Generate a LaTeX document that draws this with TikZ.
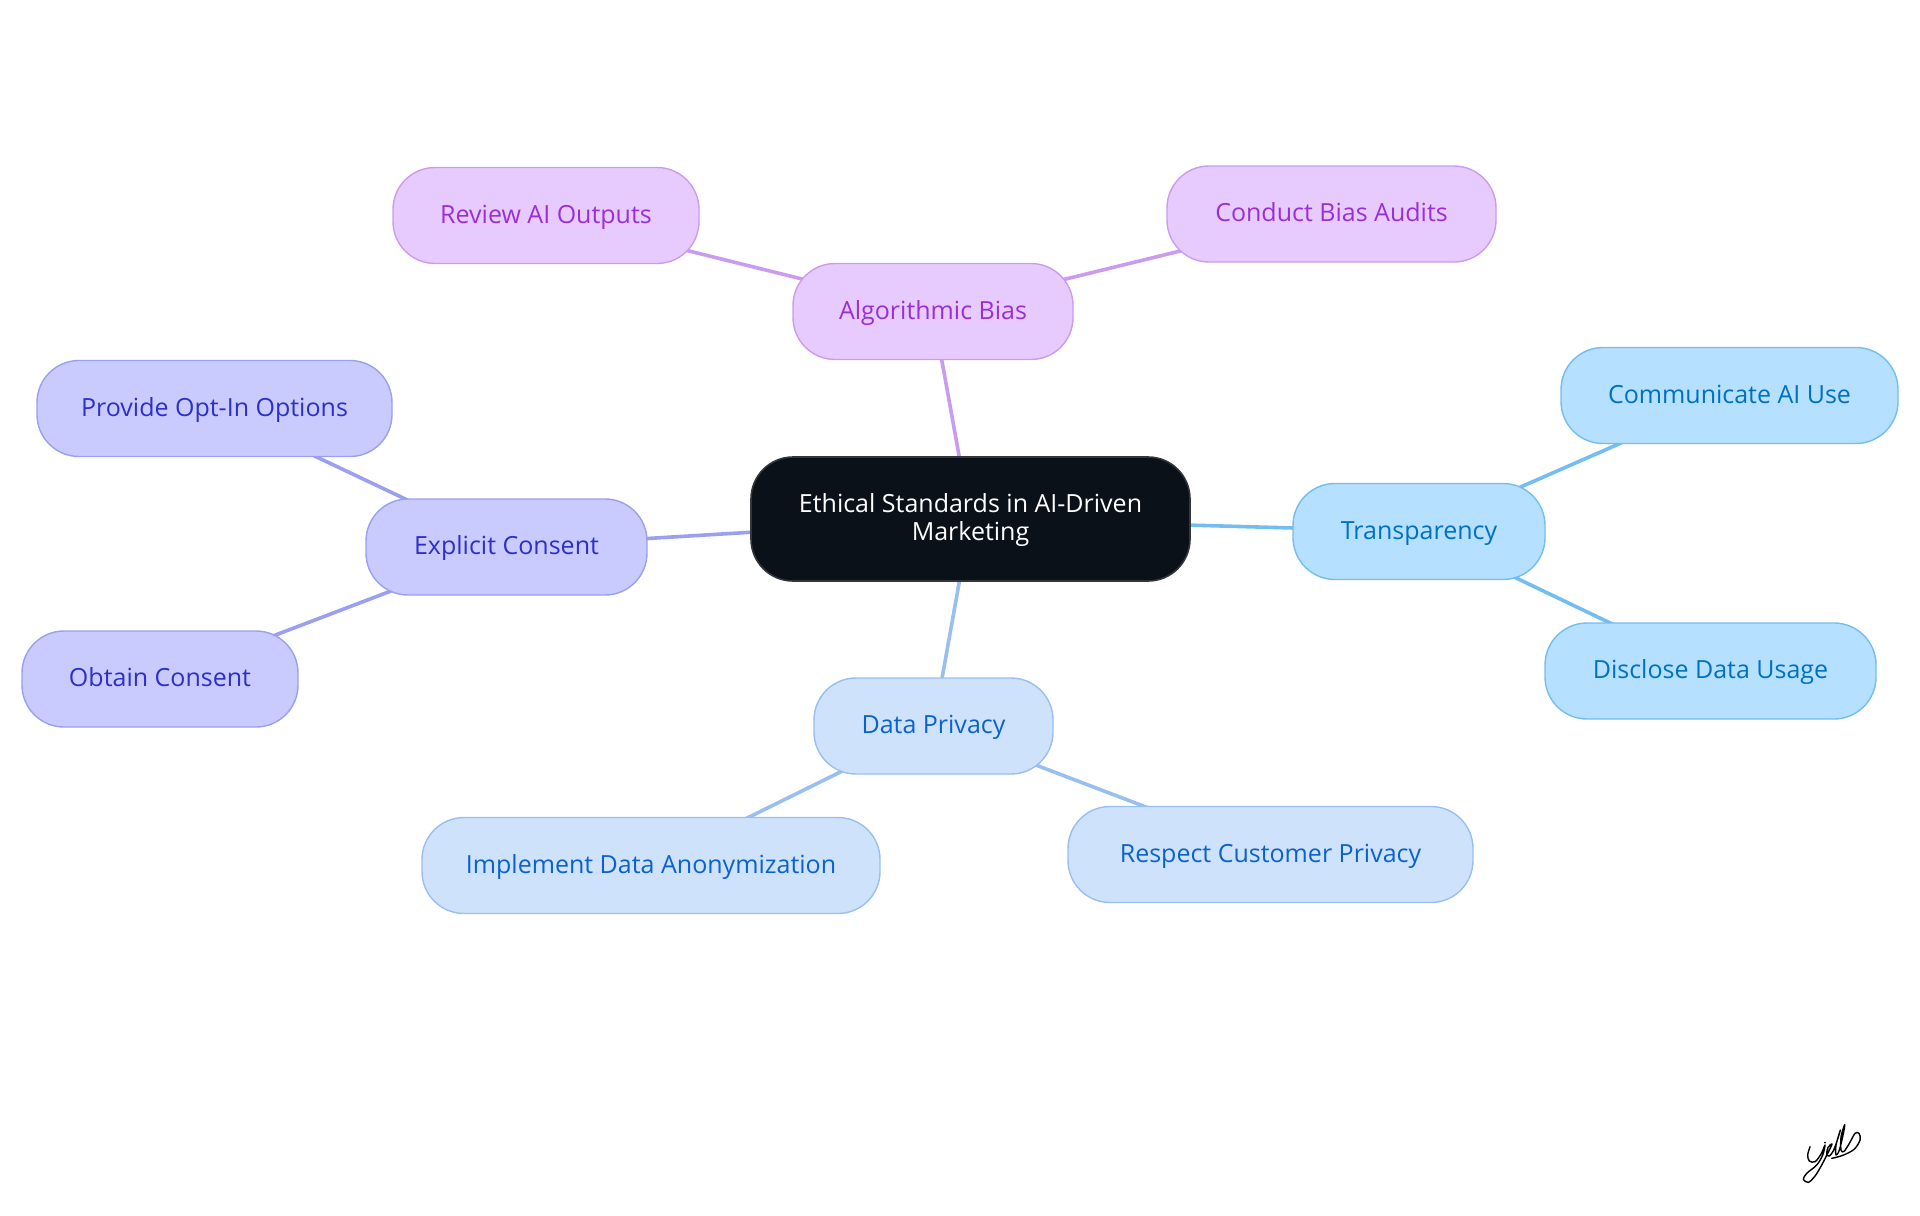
\documentclass[tikz,border=0pt]{standalone}
\usepackage{fontspec}
\setmainfont{Open Sans}[Scale=1.0]
\usepackage{xcolor}
\usetikzlibrary{backgrounds}
\definecolor{rootFill}{HTML}{0B1119}
\definecolor{rootLine}{HTML}{33363B}
\definecolor{bias}{HTML}{E7CBFF}
\definecolor{biasLine}{HTML}{C99CF0}
\definecolor{biasText}{HTML}{9A2FD8}
\definecolor{consent}{HTML}{C9CBFF}
\definecolor{consentLine}{HTML}{9A9FF0}
\definecolor{consentText}{HTML}{2C2FCB}
\definecolor{privacy}{HTML}{CEE2FC}
\definecolor{privacyLine}{HTML}{99BFF0}
\definecolor{privacyText}{HTML}{0B62CC}
\definecolor{transp}{HTML}{B5E0FF}
\definecolor{transpLine}{HTML}{74BDF0}
\definecolor{transpText}{HTML}{0071C2}
\tikzset{
  pill/.style={rounded corners=21pt, line width=0.7pt, inner sep=0pt, minimum height=48pt, text height=9pt, text depth=1.5pt, font=\fontsize{12.5}{14}\selectfont},
  rootNode/.style={pill, draw=rootLine, fill=rootFill, text=white, align=center, minimum height=62pt, line width=0.8pt, text height=23pt},
  biasNode/.style={pill, draw=biasLine, fill=bias, text=biasText},
  consentNode/.style={pill, draw=consentLine, fill=consent, text=consentText},
  privacyNode/.style={pill, draw=privacyLine, fill=privacy, text=privacyText},
  transpNode/.style={pill, draw=transpLine, fill=transp, text=transpText},
  branch/.style={line width=1.8pt},
}
\begin{document}
\begin{tikzpicture}[x=0.5pt,y=-0.5pt]
  \useasboundingbox (0,0) rectangle (1920,1215);

  \node[rootNode, minimum width=219.5pt] (root) at (970.5,519) {Ethical Standards in AI-Driven\\Marketing};

  \node[biasNode, minimum width=140pt] (algBias) at (933,311.5) {Algorithmic Bias};
  \node[biasNode, minimum width=153pt] (reviewAI) at (546,215.5) {Review AI Outputs};
  \node[biasNode, minimum width=164.5pt] (biasAudit) at (1331.5,214) {Conduct Bias Audits};

  \node[consentNode, minimum width=140.5pt] (explicit) at (506.5,547) {Explicit Consent};
  \node[consentNode, minimum width=177.5pt] (optIn) at (214.5,408.5) {Provide Opt-In Options};
  \node[consentNode, minimum width=138pt] (obtain) at (160,679) {Obtain Consent};

  \node[privacyNode, minimum width=119.5pt] (dataPriv) at (933.5,726) {Data Privacy};
  \node[privacyNode, minimum width=229pt] (anonym) at (651,865.5) {Implement Data Anonymization};
  \node[privacyNode, minimum width=202.5pt] (respect) at (1270.5,854.5) {Respect Customer Privacy};

  \node[transpNode, minimum width=126pt] (transp) at (1419,531.5) {Transparency};
  \node[transpNode, minimum width=168.5pt] (commAI) at (1729.5,395.5) {Communicate AI Use};
  \node[transpNode, minimum width=165.5pt] (disclose) at (1710.5,671) {Disclose Data Usage};

  \begin{scope}[on background layer]
    \draw[branch, draw=biasLine] (root.center)--(algBias.center);
    \draw[branch, draw=biasLine] (algBias.center)--(reviewAI.center);
    \draw[branch, draw=biasLine] (algBias.center)--(biasAudit.center);
    \draw[branch, draw=consentLine] (root.center)--(explicit.center);
    \draw[branch, draw=consentLine] (explicit.center)--(optIn.center);
    \draw[branch, draw=consentLine] (explicit.center)--(obtain.center);
    \draw[branch, draw=privacyLine] (root.center)--(dataPriv.center);
    \draw[branch, draw=privacyLine] (dataPriv.center)--(anonym.center);
    \draw[branch, draw=privacyLine] (dataPriv.center)--(respect.center);
    \draw[branch, draw=transpLine] (root.center)--(transp.center);
    \draw[branch, draw=transpLine] (transp.center)--(commAI.center);
    \draw[branch, draw=transpLine] (transp.center)--(disclose.center);
  \end{scope}

  % signature
  \begin{scope}[shift={(1760,1090)}, x=0.1667pt, y=-0.1667pt, line width=0.7pt, line cap=round, line join=round]
    \draw plot[smooth, tension=0.55] coordinates {
      (150,170) (143,195) (148,213) (165,215) (183,192) (195,165)
      (188,195) (170,225) (140,250) (130,268) (145,277) (165,258) (185,225) (203,190) (216,162)
      (204,172) (200,192) (208,198) (220,182) (232,150) (241,120)
      (228,165) (228,195) (238,180) (250,130) (254,104)
      (243,140) (243,180) (252,184) (268,160) (285,130) (297,130) (300,150) (282,178) (248,196) (215,205)};
    \fill (195,158) circle (3);
  \end{scope}
\end{tikzpicture}
\end{document}
